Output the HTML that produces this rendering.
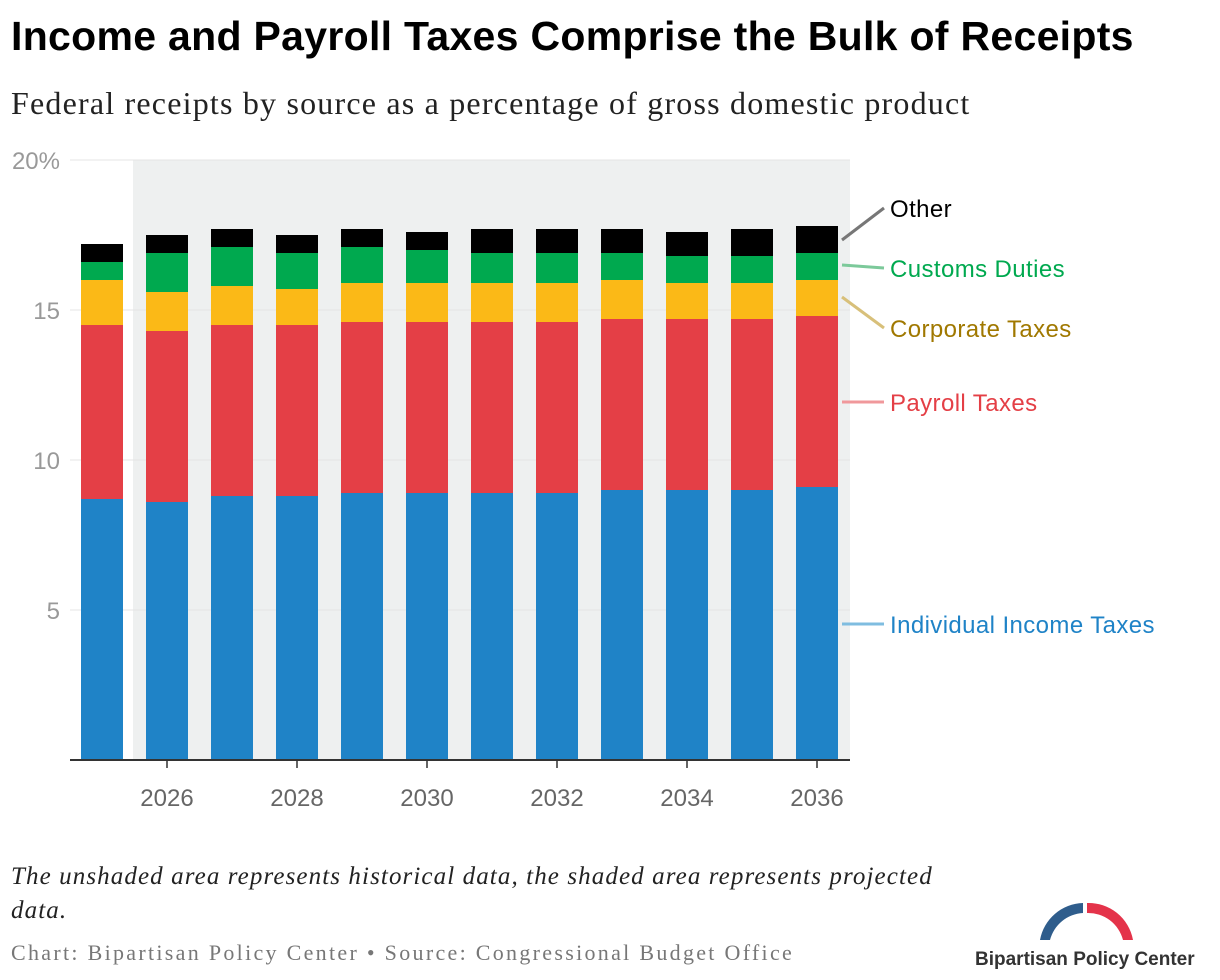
<!DOCTYPE html>
<html><head><meta charset="utf-8"><style>
body{margin:0;width:1220px;height:980px;background:#fff;overflow:hidden;font-family:"Liberation Sans",sans-serif}
.t{position:absolute;left:11px;top:13px;font-size:41px;font-weight:bold;letter-spacing:0.3px;color:#000;white-space:nowrap}
.s{position:absolute;left:11px;top:85px;font-family:"Liberation Serif",serif;font-size:32px;letter-spacing:1.2px;color:#222;white-space:nowrap}
.n{position:absolute;left:11px;top:860px;width:960px;font-family:"Liberation Serif",serif;font-style:italic;font-size:25px;letter-spacing:1.1px;line-height:34px;color:#222}
.c{position:absolute;left:11px;top:940px;font-family:"Liberation Serif",serif;font-size:22px;letter-spacing:2.3px;color:#777;white-space:nowrap}
</style></head><body>
<div class="t">Income and Payroll Taxes Comprise the Bulk of Receipts</div>
<div class="s">Federal receipts by source as a percentage of gross domestic product</div>
<svg id="ch" width="1220" height="980" style="position:absolute;left:0;top:0"></svg>
<div class="n">The unshaded area represents historical data, the shaded area represents projected data.</div>
<div class="c">Chart: Bipartisan Policy Center • Source: Congressional Budget Office</div>
<svg width="250" height="80" style="position:absolute;left:965px;top:895px">
<path d="M75 45 A45 45 0 0 1 118 8 L118 18 A36 36 0 0 0 85 45Z" fill="#2f5d8c"/>
<path d="M122 8 A45 45 0 0 1 168 45 L158 45 A36 36 0 0 0 122 18Z" fill="#e4334a"/>
<text x="10" y="70" font-size="19" font-weight="bold" fill="#333" font-family="Liberation Sans">Bipartisan Policy Center</text>
</svg>
<script>
const years=[2025,2026,2027,2028,2029,2030,2031,2032,2033,2034,2035,2036];
const income=[8.7,8.6,8.8,8.8,8.9,8.9,8.9,8.9,9.0,9.0,9.0,9.1];
const payroll=[5.8,5.7,5.7,5.7,5.7,5.7,5.7,5.7,5.7,5.7,5.7,5.7];
const corporate=[1.5,1.3,1.3,1.2,1.3,1.3,1.3,1.3,1.3,1.2,1.2,1.2];
const customs=[0.6,1.3,1.3,1.2,1.2,1.1,1.0,1.0,0.9,0.9,0.9,0.9];
const other=[0.6,0.6,0.6,0.6,0.6,0.6,0.8,0.8,0.8,0.8,0.9,0.9];
const yTicks=[5,10,15,20];
const xTickYears=[2026,2028,2030,2032,2034,2036];
const series=[["income",income,"#1f83c7"],["payroll",payroll,"#e43f46"],["corporate",corporate,"#fbb917"],["customs",customs,"#00a94f"],["other",other,"#000"]];
const svg=document.getElementById('ch');const NS='http://www.w3.org/2000/svg';
const y=v=>760-v*30, x=yr=>102+(yr-2025)*65, bw=42;
function mk(t,a,p){const e=document.createElementNS(NS,t);for(const k in a)e.setAttribute(k,a[k]);(p||svg).appendChild(e);return e;}
const sh=mk('rect',{x:133,y:y(20),width:717,height:y(0)-y(20),fill:'#eef0f0'});


yTicks.forEach(v=>{const g=mk('line',{x1:70,x2:850,y1:y(v),y2:y(v),stroke:'#e4e4e4','stroke-width':1});


const t=mk('text',{x:60,y:y(v)+9,'text-anchor':'end','font-size':24,fill:'#999'});t.textContent=v===20?'20%':v;

});
years.forEach((yr,i)=>{let base=0;series.forEach(s=>{const v=s[1][i];const r=mk('rect',{x:x(yr)-bw/2,y:y(base+v),width:bw,height:v*30,fill:s[2]});


base+=v;});});
mk('line',{x1:70,x2:850,y1:760,y2:760,stroke:'#333','stroke-width':2});
xTickYears.forEach(yr=>{mk('line',{x1:x(yr),x2:x(yr),y1:760,y2:768,stroke:'#333','stroke-width':1.5});
const t=mk('text',{x:x(yr),y:806,'text-anchor':'middle','font-size':24,fill:'#666'});t.textContent=yr;

});
const legend=[["Other","#000","#777",240,208],["Customs Duties","#00a94f","#7cc99a",265,268],["Corporate Taxes","#a07800","#d8c07a",297,328],["Payroll Taxes","#e43f46","#f0989b",402,402],["Individual Income Taxes","#1f83c7","#7fbde0",624,624]];
legend.forEach(l=>{mk('line',{x1:842,y1:l[3],x2:884,y2:l[4],stroke:l[2],'stroke-width':3});
const t=mk('text',{x:890,y:l[4]+9,'font-size':24,'letter-spacing':0.4,fill:l[1]});t.textContent=l[0];

});
</script>
</body></html>
